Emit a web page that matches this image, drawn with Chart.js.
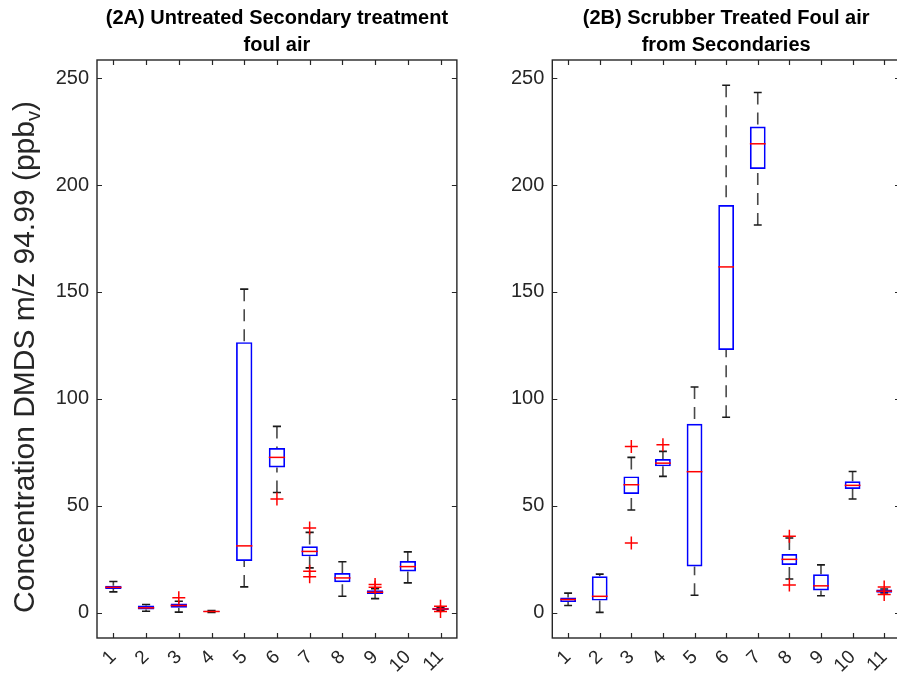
<!DOCTYPE html>
<html>
<head>
<meta charset="utf-8">
<script src="https://cdn.jsdelivr.net/npm/chart.js@4.4.1/dist/chart.umd.min.js"></script>
<style>
  html, body { margin: 0; padding: 0; background: #fff; overflow: hidden; }
  #wrap { position: relative; width: 897px; height: 674px; overflow: hidden; }
  .panel { position: absolute; top: 0; }
</style>
</head>
<body>
<div id="wrap">
  <div class="panel" style="left:0;width:465px;height:674px"><canvas id="chartA"></canvas></div>
  <div class="panel" style="left:460px;width:450px;height:674px"><canvas id="chartB"></canvas></div>
</div>
<script>
// Sampling points (box positions along the x axis)
const categories = ['1','2','3','4','5','6','7','8','9','10','11'];
const yTicks = [0, 50, 100, 150, 200, 250];

// (2A) Untreated secondary treatment foul air — box statistics (ppbv)
const lowA  = [9.7, 0.6, 0.2, 0.1, 12.0, 56.2, 20.9, 7.6, 6.5, 13.9, 1.0];
const q1A   = [11.0, 1.4, 2.3, 0.3, 24.1, 67.9, 26.3, 14.2, 8.7, 19.2, 1.2];
const medA  = [11.8, 2.2, 3.3, 0.5, 31.2, 72.6, 28.6, 16.2, 9.5, 21.5, 1.7];
const q3A   = [12.6, 3.3, 4.2, 0.8, 126.5, 77.0, 31.0, 18.5, 10.4, 24.1, 2.2];
const highA = [14.5, 3.8, 5.3, 1.0, 151.3, 87.1, 37.5, 23.8, 11.2, 28.4, 2.4];
const outA  = [[], [], [6.9], [], [], [53.1], [39.6, 19.3, 16.7], [], [13.1, 11.8], [], [3.0, 0.5]];

// (2B) Scrubber treated foul air from secondaries — box statistics (ppbv)
const lowB  = [3.3, 0.1, 48.0, 63.7, 8.1, 91.4, 181.3, 15.7, 7.9, 53.1, 9.2];
const q1B   = [4.9, 5.6, 55.5, 68.4, 21.6, 122.8, 207.5, 22.3, 10.3, 57.8, 9.3];
const medB  = [6.1, 7.6, 59.8, 69.9, 65.9, 161.7, 219.3, 24.9, 12.5, 59.5, 10.0];
const q3B   = [7.1, 17.0, 63.7, 71.8, 88.3, 190.7, 227.4, 27.4, 17.9, 61.4, 10.8];
const highB = [9.1, 18.0, 72.6, 75.4, 105.5, 246.7, 243.3, 34.9, 22.3, 66.0, 11.0];
const outB  = [[], [], [77.7, 32.6], [78.5], [], [], [], [35.7, 12.9], [], [], [12.0, 8.4]];

const FONT = "'Liberation Sans', Arial, Helvetica, sans-serif";
const AXIS_COLOR = '#262626';
const BOX_BLUE = '#0000ff';
const MED_RED = '#ff0000';

function buildPanel(canvasId, stats, opts) {
  const { low, q1, med, q3, high, out } = stats;

  const outlierPoints = [];
  out.forEach((vals, i) => vals.forEach(v => outlierPoints.push({ x: categories[i], y: v })));

  // whiskers (dashed), caps, frame, inside ticks, medians, titles
  const boxDecor = {
    id: 'boxDecor_' + canvasId,
    beforeDatasetsDraw(chart) {
      const ctx = chart.ctx;
      const xs = chart.scales.x, ys = chart.scales.y;
      const area = chart.chartArea;
      const boxMeta = chart.getDatasetMeta(0);
      ctx.save();
      ctx.beginPath();
      ctx.rect(area.left, area.top, area.right - area.left, area.bottom - area.top);
      ctx.clip();
      categories.forEach((c, i) => {
        const x = xs.getPixelForValue(i);
        const bw = boxMeta.data[i].width;
        const capHalf = bw / 4;
        const yLow = ys.getPixelForValue(low[i]);
        const yQ1 = ys.getPixelForValue(q1[i]);
        const yQ3 = ys.getPixelForValue(q3[i]);
        const yHigh = ys.getPixelForValue(high[i]);
        // dashed whisker lines
        ctx.strokeStyle = 'rgba(40,40,40,0.85)';
        ctx.lineWidth = 1.6;
        ctx.setLineDash([12, 8]);
        ctx.beginPath();
        ctx.moveTo(x, yHigh); ctx.lineTo(x, yQ3);
        ctx.moveTo(x, yLow); ctx.lineTo(x, yQ1);
        ctx.stroke();
        // solid end caps
        ctx.setLineDash([]);
        ctx.strokeStyle = '#1a1a1a';
        ctx.lineWidth = 1.6;
        ctx.beginPath();
        ctx.moveTo(x - capHalf, yHigh); ctx.lineTo(x + capHalf, yHigh);
        ctx.moveTo(x - capHalf, yLow); ctx.lineTo(x + capHalf, yLow);
        ctx.stroke();
      });
      ctx.restore();
    },
    afterDatasetsDraw(chart) {
      const ctx = chart.ctx;
      const xs = chart.scales.x, ys = chart.scales.y;
      const boxMeta = chart.getDatasetMeta(0);
      ctx.save();
      ctx.strokeStyle = MED_RED;
      ctx.lineWidth = 1.5;
      categories.forEach((c, i) => {
        const x = xs.getPixelForValue(i);
        const hw = boxMeta.data[i].width / 2;
        const y = ys.getPixelForValue(med[i]);
        ctx.beginPath();
        ctx.moveTo(x - hw, y); ctx.lineTo(x + hw, y);
        ctx.stroke();
      });
      ctx.restore();
    },
    afterDraw(chart) {
      const ctx = chart.ctx;
      const xs = chart.scales.x, ys = chart.scales.y;
      const a = chart.chartArea;
      const tl = 5;
      ctx.save();
      ctx.strokeStyle = AXIS_COLOR;
      ctx.lineWidth = 1.4;
      ctx.strokeRect(a.left, a.top, a.right - a.left, a.bottom - a.top);
      ctx.lineWidth = 1.2;
      ctx.beginPath();
      yTicks.forEach(v => {
        const y = Math.round(ys.getPixelForValue(v)) + 0.5;
        ctx.moveTo(a.left, y); ctx.lineTo(a.left + tl, y);
        ctx.moveTo(a.right, y); ctx.lineTo(a.right - tl, y);
      });
      categories.forEach((c, i) => {
        const x = Math.round(xs.getPixelForValue(i)) + 0.5;
        ctx.moveTo(x, a.bottom); ctx.lineTo(x, a.bottom - tl);
        ctx.moveTo(x, a.top); ctx.lineTo(x, a.top + tl);
      });
      ctx.stroke();

      // panel title (two lines, bold)
      ctx.fillStyle = '#000';
      ctx.font = 'bold 20px ' + FONT;
      ctx.textAlign = 'center';
      ctx.textBaseline = 'middle';
      const cx = (a.left + a.right) / 2;
      ctx.fillText(opts.title[0], cx, 18);
      ctx.fillText(opts.title[1], cx, 45);

      // y axis label with subscript
      if (opts.yLabel) {
        ctx.save();
        ctx.translate(34, 357);
        ctx.rotate(-Math.PI / 2);
        ctx.fillStyle = '#262626';
        const main = 'Concentration DMDS m/z 94.99 (ppb';
        const sub = 'v';
        const tail = ')';
        ctx.font = '30px ' + FONT;
        const wMain = ctx.measureText(main).width;
        const wTail = ctx.measureText(tail).width;
        ctx.font = '20px ' + FONT;
        const wSub = ctx.measureText(sub).width;
        const total = wMain + wSub + wTail;
        const x0 = -total / 2;
        ctx.textAlign = 'left';
        ctx.textBaseline = 'alphabetic';
        ctx.font = '30px ' + FONT;
        ctx.fillText(main, x0, 0);
        ctx.font = '20px ' + FONT;
        ctx.fillText(sub, x0 + wMain, 6);
        ctx.font = '30px ' + FONT;
        ctx.fillText(tail, x0 + wMain + wSub, 0);
        ctx.restore();
      }
      ctx.restore();
    }
  };

  return new Chart(document.getElementById(canvasId), {
    type: 'bar',
    data: {
      labels: categories,
      datasets: [
        {
          label: 'box',
          data: q1.map((v, i) => [v, q3[i]]),
          backgroundColor: 'rgba(0,0,0,0)',
          borderColor: BOX_BLUE,
          borderWidth: 1.7,
          borderSkipped: false,
          categoryPercentage: 1.0,
          barPercentage: 0.5,
          order: 2
        },
        {
          type: 'line',
          label: 'outliers',
          data: outlierPoints,
          showLine: false,
          pointStyle: 'cross',
          pointRadius: 6.5,
          pointBorderColor: MED_RED,
          pointBackgroundColor: MED_RED,
          pointBorderWidth: 1.5,
          order: 1
        }
      ]
    },
    options: {
      responsive: false,
      animation: false,
      devicePixelRatio: 1,
      layout: { padding: { top: 60, right: opts.padRight, left: 0, bottom: 0 } },
      plugins: { legend: { display: false }, tooltip: { enabled: false }, title: { display: false } },
      scales: {
        x: {
          type: 'category',
          offset: true,
          grid: { display: false, drawTicks: false },
          border: { display: false },
          ticks: {
            autoSkip: false,
            minRotation: 45,
            maxRotation: 45,
            padding: 8,
            color: '#262626',
            font: { family: FONT, size: 19 }
          },
          afterFit(scale) {
            scale.height = 36;
          }
        },
        y: {
          type: 'linear',
          min: -11.9,
          max: 258.5,
          grid: { display: false, drawTicks: false },
          border: { display: false },
          ticks: {
            padding: 8,
            color: '#262626',
            font: { family: FONT, size: 20 }
          },
          afterBuildTicks(scale) { scale.ticks = yTicks.map(v => ({ value: v })); },
          afterFit(scale) { scale.width = opts.yWidth; }
        }
      }
    },
    plugins: [boxDecor]
  });
}

function sizeCanvas(id, w, h) {
  const c = document.getElementById(id);
  c.width = w; c.height = h;
  c.style.width = w + 'px'; c.style.height = h + 'px';
}
sizeCanvas('chartA', 465, 674);
sizeCanvas('chartB', 450, 674);

buildPanel('chartA',
  { low: lowA, q1: q1A, med: medA, q3: q3A, high: highA, out: outA },
  { title: ['(2A) Untreated Secondary treatment', 'foul air'], padRight: 0, yWidth: 97, yLabel: true });

buildPanel('chartB',
  { low: lowB, q1: q1B, med: medB, q3: q3B, high: highB, out: outB },
  { title: ['(2B) Scrubber Treated Foul air', 'from Secondaries'], padRight: 10, yWidth: 92.3, yLabel: false });
</script>
</body>
</html>
